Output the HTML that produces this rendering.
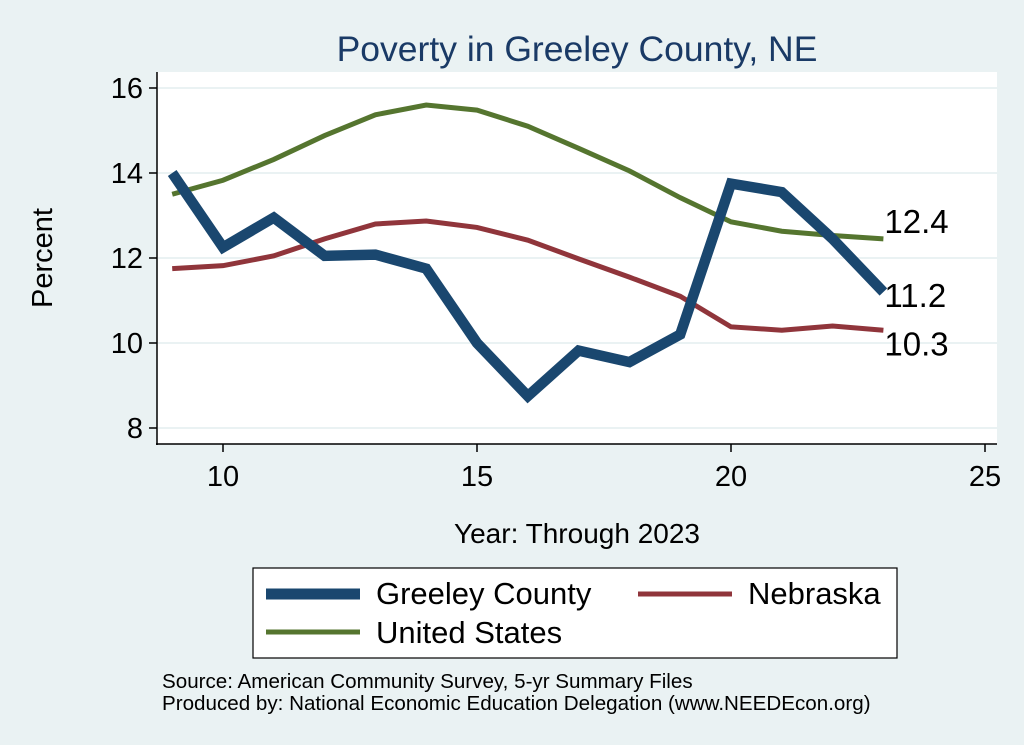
<!DOCTYPE html>
<html><head><meta charset="utf-8"><style>
body{margin:0;background:#eaf2f3;}
svg{display:block;font-family:"Liberation Sans",Arial,sans-serif;}
</style></head><body>
<svg width="1024" height="745" viewBox="0 0 1024 745">
<rect x="0" y="0" width="1024" height="745" fill="#eaf2f3"/>
<text x="577" y="61" font-size="35.5" fill="#1a3a66" text-anchor="middle">Poverty in Greeley County, NE</text>
<rect x="157" y="72" width="840" height="372" fill="#fff"/>
<g id="grid"></g>
<g id="series"></g>
<line x1="157" y1="72" x2="157" y2="445" stroke="#000" stroke-width="1.5"/>
<line x1="156" y1="444" x2="997" y2="444" stroke="#000" stroke-width="1.5"/>
<g id="ticks"></g>
<text x="52" y="258" font-size="29" text-anchor="middle" transform="rotate(-90 52 258)">Percent</text>
<text x="577" y="543" font-size="28" text-anchor="middle">Year: Through 2023</text>
<g>
<rect x="253" y="568" width="644" height="90" fill="#fff" stroke="#000" stroke-width="1.2"/>
<line x1="266" y1="594" x2="360" y2="594" stroke="#1a476f" stroke-width="11"/>
<text x="376" y="604" font-size="31">Greeley County</text>
<line x1="638" y1="594" x2="732" y2="594" stroke="#90353b" stroke-width="5"/>
<text x="748" y="604" font-size="31">Nebraska</text>
<line x1="266" y1="632" x2="360" y2="632" stroke="#55752f" stroke-width="5"/>
<text x="376" y="643" font-size="31">United States</text>
</g>
<text x="162" y="688" font-size="20.6">Source: American Community Survey, 5-yr Summary Files</text>
<text x="162" y="710" font-size="20.6">Produced by: National Economic Education Delegation (www.NEEDEcon.org)</text>
</svg>
<script>
const years=[9,10,11,12,13,14,15,16,17,18,19,20,21,22,23];
const greeley=[14.0,12.25,12.95,12.05,12.08,11.75,10.0,8.75,9.82,9.55,10.2,13.75,13.55,12.45,11.2];
const nebraska=[11.75,11.82,12.05,12.45,12.8,12.87,12.72,12.42,11.98,11.55,11.1,10.38,10.3,10.4,10.3];
const unitedStates=[13.5,13.83,14.32,14.88,15.37,15.6,15.48,15.1,14.58,14.05,13.42,12.85,12.63,12.53,12.45];
const xTicks=[10,15,20,25];
const yTicks=[8,10,12,14,16];
const NS='http://www.w3.org/2000/svg';
const xs=v=>223+(v-10)*50.8;
const ys=v=>343-(v-10)*42.5;
function mk(t,a,p){const e=document.createElementNS(NS,t);for(const k in a)e.setAttribute(k,a[k]);document.getElementById(p).appendChild(e);return e;}
yTicks.forEach(v=>{
 const g=mk('line',{x1:158,x2:997,y1:ys(v),y2:ys(v),stroke:'#eaf2f3','stroke-width':2},'grid');
 
 
 const t=mk('line',{x1:149,x2:157,y1:ys(v),y2:ys(v),stroke:'#000','stroke-width':1.5},'ticks');
 
 
 const l=mk('text',{x:143,y:ys(v)+10,'font-size':29,'text-anchor':'end'},'ticks');l.textContent=v;
 
 
});
xTicks.forEach(v=>{
 const t=mk('line',{x1:xs(v),x2:xs(v),y1:444,y2:452,stroke:'#000','stroke-width':1.5},'ticks');
 
 
 const l=mk('text',{x:xs(v),y:486,'font-size':29,'text-anchor':'middle'},'ticks');l.textContent=v;
 
 
});
function line(vals,color,w,name){
 const p=mk('polyline',{points:vals.map((v,i)=>xs(years[i])+','+ys(v)).join(' '),fill:'none',stroke:color,'stroke-width':w,'stroke-linejoin':'miter'},'series');
 
 
}
line(unitedStates,'#55752f',5,'line-united-states');
line(nebraska,'#90353b',5,'line-nebraska');
line(greeley,'#1a476f',10.5,'line-greeley-county');
const n=years.length-1,lx=xs(years[n]);
[[unitedStates[n],-6,'label-us-last'],[greeley[n],15,'label-greeley-last'],[nebraska[n],25,'label-nebraska-last']].forEach(([v,dy,nm])=>{
 const l=mk('text',{x:lx+1,y:ys(v)+dy,'font-size':33},'series');l.textContent=v.toFixed(1);
 
 
});
</script>
</body></html>
